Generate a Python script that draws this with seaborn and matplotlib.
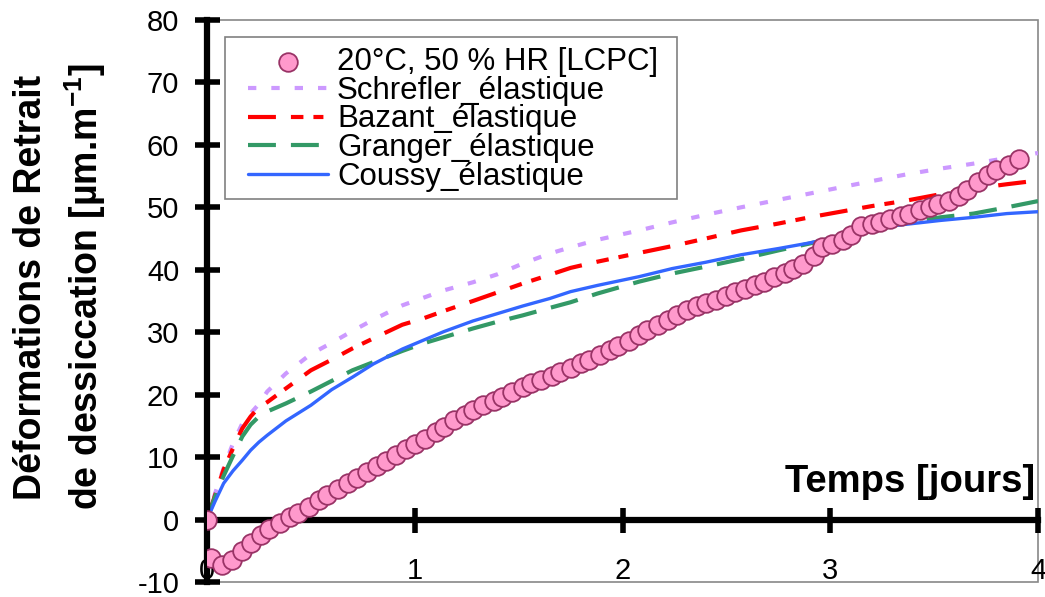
import matplotlib
matplotlib.use("Agg")
import matplotlib.pyplot as plt
import seaborn as sns
from matplotlib.patches import Rectangle

# Measured drying shrinkage (markers)
t_mes = [0, 0.02, 0.07, 0.12, 0.17, 0.21, 0.26, 0.30, 0.35, 0.40,
         0.44, 0.49, 0.54, 0.58, 0.63, 0.68, 0.72, 0.77, 0.82, 0.86,
         0.91, 0.96, 1.00, 1.05, 1.10, 1.14, 1.19, 1.24, 1.28, 1.33,
         1.38, 1.42, 1.47, 1.52, 1.56, 1.61, 1.66, 1.70, 1.75, 1.80,
         1.84, 1.89, 1.94, 1.98, 2.03, 2.08, 2.12, 2.17, 2.22, 2.26,
         2.31, 2.36, 2.40, 2.45, 2.50, 2.54, 2.59, 2.64, 2.68, 2.73,
         2.78, 2.82, 2.87, 2.92, 2.96, 3.01, 3.06, 3.10, 3.15, 3.20,
         3.24, 3.29, 3.34, 3.38, 3.43, 3.48, 3.52, 3.57, 3.62, 3.66,
         3.71, 3.76, 3.80, 3.86, 3.91]
eps_mes = [0, -6.1, -7.2, -6.4, -5.0, -3.8, -2.5, -1.5, -0.5, 0.4,
           1.1, 2.0, 3.1, 3.9, 4.9, 5.9, 6.7, 7.6, 8.5, 9.4,
           10.4, 11.3, 12.1, 12.9, 14.0, 14.9, 15.9, 16.8, 17.5, 18.3,
           19.0, 19.7, 20.4, 21.2, 21.8, 22.4, 23.0, 23.6, 24.3, 25.0,
           25.6, 26.4, 27.1, 27.8, 28.6, 29.5, 30.3, 31.2, 32.0, 32.8,
           33.5, 34.2, 34.7, 35.2, 35.8, 36.4, 37.0, 37.6, 38.1, 38.8,
           39.5, 40.2, 40.9, 42.2, 43.6, 44.2, 44.8, 45.5, 47.0, 47.3,
           47.6, 48.1, 48.6, 49.0, 49.5, 50.1, 50.5, 51.0, 51.8, 52.7,
           54.0, 55.2, 55.9, 56.8, 57.8]

# Model curves
t_mod = [0, 0.04, 0.08, 0.125, 0.17, 0.21, 0.25, 0.29, 0.38, 0.5,
         0.6, 0.7, 0.8, 0.94, 1.04, 1.14, 1.28, 1.4, 1.52, 1.65,
         1.75, 1.88, 2.08, 2.24, 2.4, 2.57, 2.75, 2.9, 3.05, 3.2,
         3.37, 3.53, 3.69, 3.85, 4.0]
schrefler = [0, 4.3, 8.2, 12.2, 15.4, 17.0, 18.5, 20.5, 23.4, 26.5,
             28.3, 30.2, 32.0, 34.3, 35.5, 36.7, 38.0, 39.3, 41.0, 42.6,
             43.6, 44.8, 46.3, 47.6, 48.8, 50.0, 51.2, 52.2, 53.2, 54.2,
             55.3, 56.2, 57.0, 57.9, 58.7]
bazant = [0, 4.0, 8.0, 11.4, 14.6, 16.5, 18.0, 18.8, 21.0, 23.9,
          25.6, 27.4, 29.0, 31.2, 32.2, 33.4, 35.0, 36.4, 37.8, 39.2,
          40.3, 41.3, 42.7, 43.8, 45.0, 46.3, 47.4, 48.4, 49.3, 50.2,
          51.1, 52.1, 53.0, 53.7, 54.3]
granger = [0, 3.8, 7.0, 10.2, 13.3, 15.2, 16.5, 17.3, 18.6, 20.5,
           22.2, 23.9, 25.2, 27.0, 28.2, 29.2, 30.6, 31.7, 32.7, 33.9,
           34.8, 36.2, 38.1, 39.4, 40.5, 41.7, 43.1, 44.2, 45.4, 46.5,
           47.5, 48.4, 49.0, 50.0, 51.0]
coussy = [0, 3.0, 5.8, 7.8, 9.5, 11.1, 12.4, 13.5, 15.8, 18.3,
          20.8, 22.8, 24.9, 27.3, 28.7, 30.1, 31.8, 33.0, 34.2, 35.4,
          36.5, 37.5, 38.9, 40.2, 41.2, 42.4, 43.4, 44.3, 45.4, 46.7,
          47.3, 47.9, 48.4, 49.0, 49.3]

sns.set_style("white")
plt.rcParams['font.family'] = ['Liberation Sans', 'DejaVu Sans']
plt.rcParams['axes.unicode_minus'] = False
plt.rcParams['text.color'] = 'black'
plt.rcParams['axes.labelcolor'] = 'black'
plt.rcParams['xtick.color'] = 'black'
plt.rcParams['ytick.color'] = 'black'
plt.rcParams['mathtext.fontset'] = 'custom'
plt.rcParams['mathtext.rm'] = 'Liberation Sans'
plt.rcParams['mathtext.bf'] = 'Liberation Sans:bold'

fig = plt.figure(figsize=(10.45, 5.97), dpi=100)
ax = fig.add_axes([207 / 1045, 15 / 597, 831 / 1045, 562 / 597])

sns.scatterplot(x=t_mes, y=eps_mes, ax=ax, s=180, color='#FF99CC',
                edgecolor='#993366', linewidth=1.3, zorder=5,
                label='20°C, 50 % HR [LCPC]')
sns.lineplot(x=t_mod, y=schrefler, ax=ax, color='#CC99FF', lw=3,
             linestyle=(0, (2, 3.6)), sort=False, estimator=None,
             label='Schrefler_élastique')
sns.lineplot(x=t_mod, y=bazant, ax=ax, color='#FF0000', lw=3,
             linestyle=(0, (6.7, 3.6, 3, 2.4, 2.4, 3.6)), sort=False,
             estimator=None, label='Bazant_élastique')
sns.lineplot(x=t_mod, y=granger, ax=ax, color='#339966', lw=3,
             linestyle=(0, (6.7, 3.6)), sort=False, estimator=None,
             label='Granger_élastique')
sns.lineplot(x=t_mod, y=coussy, ax=ax, color='#3366FF', lw=2.4,
             sort=False, estimator=None, label='Coussy_élastique')

ax.set_xlim(0, 4)
ax.set_ylim(-10, 80)
ax.set_xticks([0, 1, 2, 3, 4])
ax.set_yticks(range(-10, 81, 10))

# axes crossing at zero
ax.spines['left'].set_position(('data', 0))
ax.spines['bottom'].set_position(('data', 0))
for s in ['left', 'bottom']:
    ax.spines[s].set_linewidth(4.5)
    ax.spines[s].set_color('black')
    ax.spines[s].set_zorder(4)
ax.spines['top'].set_visible(False)
ax.spines['right'].set_visible(False)
ax.add_patch(Rectangle((0, 0), 1, 1, transform=ax.transAxes, fill=False,
                       edgecolor='#888888', lw=1.2, clip_on=False, zorder=0))

ax.tick_params(axis='both', direction='inout', length=18, width=4,
               color='black', labelcolor='black', labelsize=21,
               bottom=True, left=True)
ax.tick_params(axis='x', pad=18)
ax.tick_params(axis='y', pad=11)

ax.set_xlabel('Temps [jours]', fontsize=27.5, fontweight='bold',
              ha='right', va='baseline')
ax.xaxis.set_label_coords(0.9964, 0.160)
ax.set_ylabel('Déformations de Retrait\nde dessiccation [µm.m$^{\\mathbf{-1}}$]',
              fontsize=27, fontweight='bold', linespacing=1.38, va='center')
ax.yaxis.set_label_coords(-0.176, 0.525)

# legend box drawn separately, entries placed inside it
ax.add_patch(Rectangle((225 / 1045, 1 - 199 / 597), 452 / 1045, 162 / 597,
                       transform=fig.transFigure, fill=True, facecolor='white',
                       edgecolor='#808080', lw=1.2, zorder=6, clip_on=False))
leg = ax.legend(loc='upper left', bbox_to_anchor=(248 / 1045, 1 - 47 / 597),
                bbox_transform=fig.transFigure, borderaxespad=0,
                fontsize=22.5, frameon=False, handlelength=2.56,
                handletextpad=0.29, labelspacing=-0.04, borderpad=0,
                scatterpoints=1)
leg.set_zorder(7)

fig.savefig('out.png', dpi=100)
